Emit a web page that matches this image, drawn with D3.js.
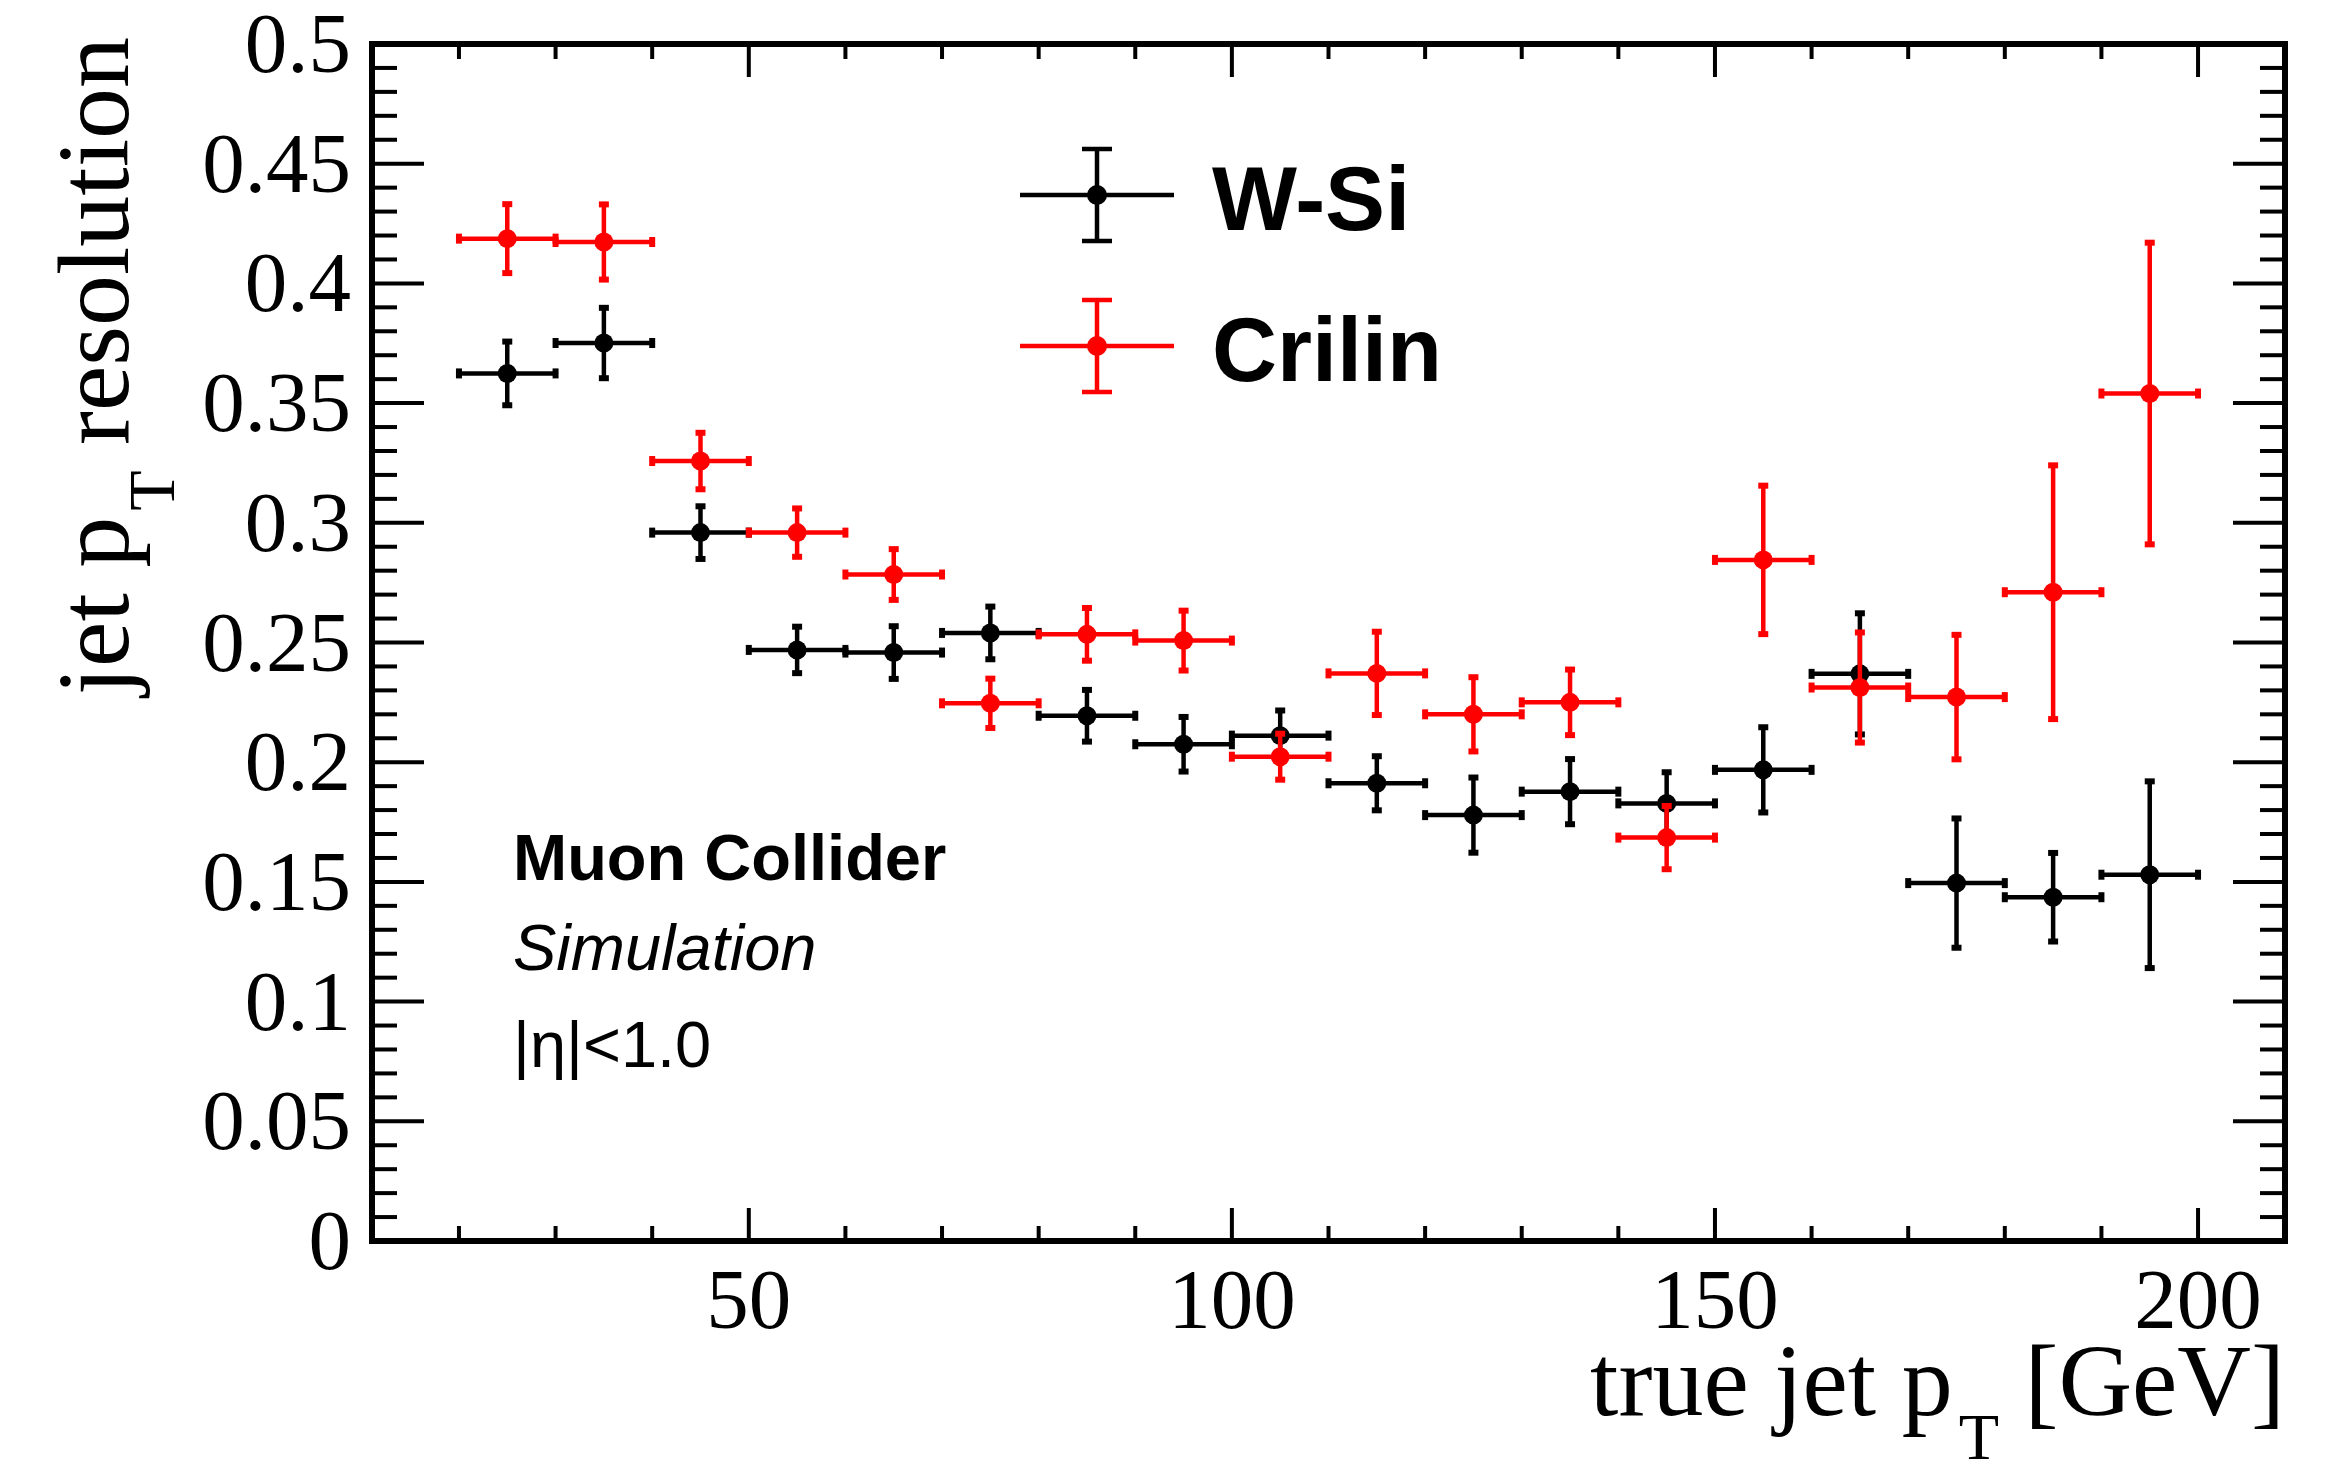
<!DOCTYPE html>
<html>
<head>
<meta charset="utf-8">
<script src="https://cdn.jsdelivr.net/npm/d3@7"></script>
<style>
  html, body { margin: 0; padding: 0; background: #fff; }
  svg { display: block; }
</style>
</head>
<body>
<div id="chart"></div>
<script>
// jet pT resolution vs true jet pT, two calorimeter options
const binCenters = [25, 35, 45, 55, 65, 75, 85, 95, 105, 115, 125, 135, 145, 155, 165, 175, 185, 195];
const binHalfWidth = 5;
const wsiRes = [0.3624, 0.3751, 0.2959, 0.2469, 0.2458, 0.254, 0.2194, 0.2075, 0.2111, 0.1912, 0.1779, 0.1877, 0.1828, 0.1968, 0.2369, 0.1495, 0.1436, 0.153];
const wsiErr = [0.0133, 0.0147, 0.011, 0.0097, 0.011, 0.011, 0.0108, 0.0114, 0.0105, 0.0113, 0.0157, 0.0136, 0.013, 0.0178, 0.0253, 0.027, 0.0185, 0.039];
const crilinRes = [0.4187, 0.4173, 0.3258, 0.2959, 0.2784, 0.2246, 0.2534, 0.2508, 0.2023, 0.2371, 0.22, 0.225, 0.1685, 0.2845, 0.2312, 0.2272, 0.271, 0.354];
const crilinErr = [0.0144, 0.0157, 0.0118, 0.0101, 0.0106, 0.0103, 0.011, 0.0125, 0.0096, 0.0174, 0.0155, 0.0137, 0.0132, 0.031, 0.023, 0.026, 0.053, 0.063];
const seriesNames = ["W-Si", "Crilin"];
const seriesColors = ["#000000", "#ff0000"];
const xMajorTicks = [50, 100, 150, 200];
const yMajorTicks = [0, 0.05, 0.1, 0.15, 0.2, 0.25, 0.3, 0.35, 0.4, 0.45, 0.5];
const labelLines = ["Muon Collider", "Simulation", "|η|<1.0"];

const W = 2331, H = 1464;
const frame = {left: 372, right: 2285, top: 44, bottom: 1241};
const SERIF = "'Liberation Serif', 'Times New Roman', serif";
const SANS = "'Liberation Sans', Arial, Helvetica, sans-serif";

const svg = d3.select("#chart").append("svg")
  .attr("width", W).attr("height", H)
  .attr("viewBox", `0 0 ${W} ${H}`);

const x = d3.scaleLinear().domain([11, 209]).range([frame.left, frame.right]);
const y = d3.scaleLinear().domain([0, 0.5]).range([frame.bottom, frame.top]);

// ticks, ROOT style: inside the frame, mirrored on all sides
const xMinor = d3.range(20, 210, 10);
const yMinor = d3.range(0, 0.5001, 0.01);
const ticks = svg.append("g").attr("stroke", "#000").attr("stroke-width", 4);

const xTickLen = v => xMajorTicks.includes(v) ? 33 : 15;
const isYMajor = v => yMajorTicks.some(t => Math.abs(t - v) < 1e-6);
const yTickLen = v => isYMajor(v) ? 52 : 25;

xMinor.forEach(v => {
  ticks.append("line").attr("x1", x(v)).attr("x2", x(v))
    .attr("y1", frame.bottom).attr("y2", frame.bottom - xTickLen(v));
  ticks.append("line").attr("x1", x(v)).attr("x2", x(v))
    .attr("y1", frame.top).attr("y2", frame.top + xTickLen(v));
});
yMinor.forEach(v => {
  ticks.append("line").attr("y1", y(v)).attr("y2", y(v))
    .attr("x1", frame.left).attr("x2", frame.left + yTickLen(v));
  ticks.append("line").attr("y1", y(v)).attr("y2", y(v))
    .attr("x1", frame.right).attr("x2", frame.right - yTickLen(v));
});

svg.append("rect")
  .attr("x", frame.left).attr("y", frame.top)
  .attr("width", frame.right - frame.left).attr("height", frame.bottom - frame.top)
  .attr("fill", "none").attr("stroke", "#000").attr("stroke-width", 6);

// tick labels
svg.append("g").selectAll("text").data(yMajorTicks).join("text")
  .attr("x", 351).attr("y", d => y(d) + 28)
  .attr("text-anchor", "end")
  .attr("font-family", SERIF).attr("font-size", 85)
  .text(d => d3.format("")(+d.toFixed(2)));

svg.append("g").selectAll("text").data(xMajorTicks).join("text")
  .attr("x", d => x(d)).attr("y", 1328)
  .attr("text-anchor", "middle")
  .attr("font-family", SERIF).attr("font-size", 85)
  .text(d => d);

// axis titles
const xt = svg.append("text")
  .attr("x", frame.right).attr("y", 1415)
  .attr("text-anchor", "end")
  .attr("font-family", SERIF).attr("font-size", 102);
xt.append("tspan").text("true jet p");
xt.append("tspan").attr("dy", 44).attr("dx", 6).attr("font-size", 66).text("T");
xt.append("tspan").attr("dy", -44).text(" [GeV]");

const yt = svg.append("text")
  .attr("transform", "translate(128,37) rotate(-90)")
  .attr("text-anchor", "end")
  .attr("font-family", SERIF).attr("font-size", 102);
yt.append("tspan").text("jet p");
yt.append("tspan").attr("dy", 46).attr("dx", 6).attr("font-size", 66).text("T");
yt.append("tspan").attr("dy", -46).text(" resolution");

// data points with error bars
function drawSeries(vals, errs, color){
  const g = svg.append("g").attr("stroke", color).attr("fill", color);
  const pts = binCenters.map((c, i) => ({c, v: vals[i], e: errs[i]}));
  const cap = 5;
  pts.forEach(d => {
    const cx = x(d.c), cy = y(d.v);
    const x0 = x(d.c - binHalfWidth), x1 = x(d.c + binHalfWidth);
    const y0 = y(d.v - d.e), y1 = y(d.v + d.e);
    g.append("line").attr("x1", x0).attr("x2", x1).attr("y1", cy).attr("y2", cy).attr("stroke-width", 4.5);
    g.append("line").attr("x1", cx).attr("x2", cx).attr("y1", y0).attr("y2", y1).attr("stroke-width", 4.5);
    // small end caps
    g.append("line").attr("x1", x0).attr("x2", x0).attr("y1", cy - cap).attr("y2", cy + cap).attr("stroke-width", 6);
    g.append("line").attr("x1", x1).attr("x2", x1).attr("y1", cy - cap).attr("y2", cy + cap).attr("stroke-width", 6);
    g.append("line").attr("x1", cx - cap).attr("x2", cx + cap).attr("y1", y0).attr("y2", y0).attr("stroke-width", 6);
    g.append("line").attr("x1", cx - cap).attr("x2", cx + cap).attr("y1", y1).attr("y2", y1).attr("stroke-width", 6);
    g.append("circle").attr("cx", cx).attr("cy", cy).attr("r", 9.5).attr("stroke", "none");
  });
}
drawSeries(wsiRes, wsiErr, seriesColors[0]);
drawSeries(crilinRes, crilinErr, seriesColors[1]);

// legend
const legendY = [195, 346];
seriesNames.forEach((name, i) => {
  const g = svg.append("g").attr("stroke", seriesColors[i]).attr("fill", seriesColors[i]);
  const cx = 1097, cy = legendY[i];
  g.append("line").attr("x1", cx - 77).attr("x2", cx + 77).attr("y1", cy).attr("y2", cy).attr("stroke-width", 4.5);
  g.append("line").attr("x1", cx).attr("x2", cx).attr("y1", cy - 46).attr("y2", cy + 46).attr("stroke-width", 4.5);
  g.append("line").attr("x1", cx - 15).attr("x2", cx + 15).attr("y1", cy - 46).attr("y2", cy - 46).attr("stroke-width", 4.5);
  g.append("line").attr("x1", cx - 15).attr("x2", cx + 15).attr("y1", cy + 46).attr("y2", cy + 46).attr("stroke-width", 4.5);
  g.append("circle").attr("cx", cx).attr("cy", cy).attr("r", 10).attr("stroke", "none");
  svg.append("text")
    .attr("x", 1212).attr("y", cy + 35)
    .attr("font-family", SANS).attr("font-weight", "bold").attr("font-size", 90)
    .text(name);
});

// experiment label
const labelY = [880, 970, 1067];
labelLines.forEach((t, i) => {
  svg.append("text")
    .attr("x", 513).attr("y", labelY[i])
    .attr("font-family", SANS).attr("font-size", 65)
    .attr("font-weight", i === 0 ? "bold" : "normal")
    .attr("font-style", i === 1 ? "italic" : "normal")
    .text(t);
});
</script>
</body>
</html>
